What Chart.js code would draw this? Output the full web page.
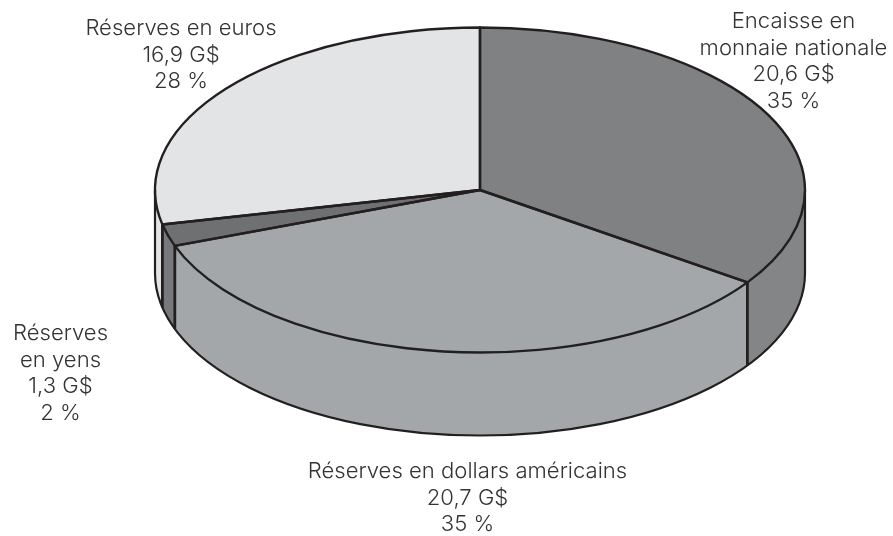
<!DOCTYPE html>
<html lang="fr">
<head>
<meta charset="utf-8">
<title>Réserves</title>
<style>html,body{margin:0;padding:0;background:#fff}canvas{display:block}</style>
<script src="https://cdn.jsdelivr.net/npm/chart.js@4"></script>
</head>
<body>
<canvas id="pie" width="893" height="536"></canvas>
<script>
// Reserve composition, in billions of dollars
const categories = ['Encaisse en\nmonnaie nationale', 'Réserves en dollars américains', 'Réserves\nen yens', 'Réserves en euros'];
const amounts = [20.6, 20.7, 1.3, 16.9];
const amountLabels = ['20,6 G$', '20,7 G$', '1,3 G$', '16,9 G$'];
const shareLabels = ['35 %', '35 %', '2 %', '28 %'];
const sliceColors = ['#808183', '#A4A7A9', '#6F7072', '#E3E4E6'];
const wallColors = ['#848587', '#A4A7A9', '#77787B', '#E3E4E6'];

// Canvas layout of the tilted disc and its captions
const radiusX = 325, squash = 0.5, depth = 83;
const captionCentres = [[793.5, 21.5], [467.5, 471.5], [60.5, 333.5], [181, 28.5]];
const captionLineHeight = 26.5;
const inkColor = '#231F20';

const clampAngle = a => Math.min(Math.PI, Math.max(0, a));

const tiltedDisc = {
  id: 'tiltedDisc',
  beforeDatasetsDraw(chart) {
    const arcs = chart.getDatasetMeta(0).data;
    const { ctx } = chart;
    const ry = radiusX * squash;
    // Side wall below the rim, only on the front half of the disc
    arcs.forEach((arc, i) => {
      const a = clampAngle(arc.startAngle), b = clampAngle(arc.endAngle);
      if (b <= a) return;
      ctx.beginPath();
      ctx.ellipse(arc.x, arc.y, radiusX, ry, 0, a, b);
      ctx.ellipse(arc.x, arc.y + depth, radiusX, ry, 0, b, a, true);
      ctx.closePath();
      ctx.fillStyle = wallColors[i];
      ctx.fill();
    });
    ctx.save();
    ctx.translate(arcs[0].x, arcs[0].y);
    ctx.scale(1, squash);
    ctx.translate(-arcs[0].x, -arcs[0].y);
  },
  afterDatasetsDraw(chart) {
    const { ctx } = chart;
    ctx.restore();
    const arcs = chart.getDatasetMeta(0).data;
    const ry = radiusX * squash;
    const cx = arcs[0].x, cy = arcs[0].y;
    ctx.strokeStyle = inkColor;
    ctx.lineJoin = 'round';

    // Lower rim and silhouette of the wall
    ctx.lineWidth = 2.2;
    ctx.beginPath();
    ctx.moveTo(cx + radiusX, cy);
    ctx.lineTo(cx + radiusX, cy + depth);
    ctx.ellipse(cx, cy + depth, radiusX, ry, 0, 0, Math.PI);
    ctx.lineTo(cx - radiusX, cy);
    ctx.stroke();

    // Vertical edges where the slices meet on the wall
    ctx.lineWidth = 2.8;
    arcs.forEach(arc => {
      const t = arc.endAngle;
      if (t <= 0 || t >= Math.PI) return;
      const x = cx + radiusX * Math.cos(t), y = cy + ry * Math.sin(t);
      ctx.beginPath();
      ctx.moveTo(x, y);
      ctx.lineTo(x, y + depth);
      ctx.stroke();
    });

    // Slice outlines on the top face
    ctx.lineWidth = 2.4;
    arcs.forEach(arc => {
      ctx.beginPath();
      ctx.moveTo(cx, cy);
      ctx.ellipse(cx, cy, radiusX, ry, 0, arc.startAngle, arc.endAngle);
      ctx.closePath();
      ctx.stroke();
    });

    // Captions
    ctx.fillStyle = '#333333';
    ctx.font = '300 22.1px Inter, "Liberation Sans", sans-serif';
    ctx.textAlign = 'center';
    ctx.textBaseline = 'middle';
    categories.forEach((name, i) => {
      const lines = name.split('\n').concat(amountLabels[i], shareLabels[i]);
      lines.forEach((line, k) => {
        ctx.fillText(line, captionCentres[i][0], captionCentres[i][1] + k * captionLineHeight);
      });
    });
  }
};

new Chart(document.getElementById('pie'), {
  type: 'pie',
  data: {
    labels: categories,
    datasets: [{
      data: amounts,
      backgroundColor: sliceColors,
      borderWidth: 0,
      radius: radiusX
    }]
  },
  options: {
    responsive: false,
    animation: false,
    layout: { padding: { left: 67, right: 0, top: 0, bottom: 156 } },
    plugins: { legend: { display: false }, tooltip: { enabled: false }, title: { display: false } }
  },
  plugins: [tiltedDisc]
});
</script>
</body>
</html>
